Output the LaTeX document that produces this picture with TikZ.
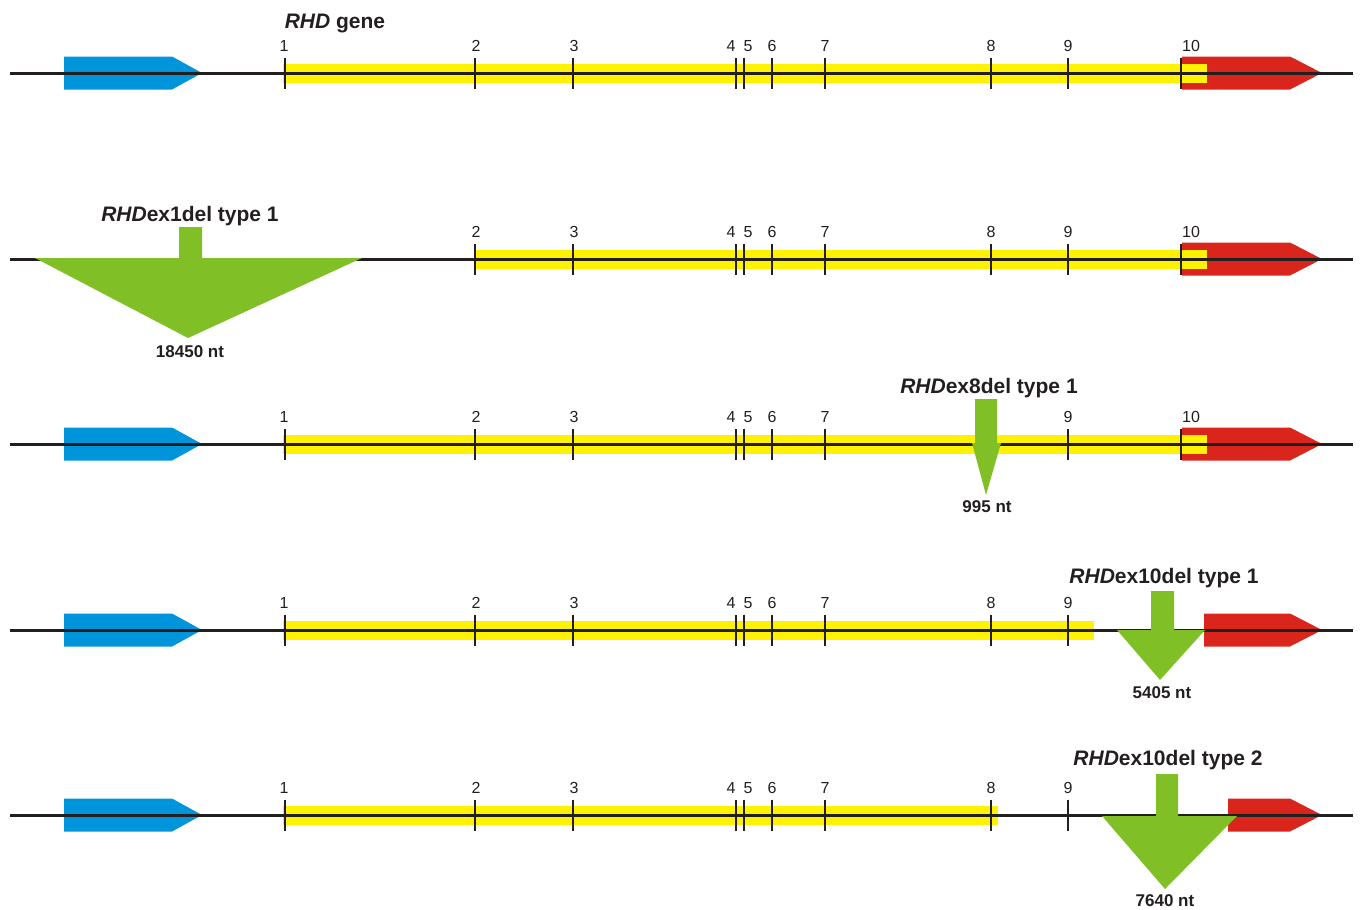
\documentclass[tikz,border=0pt]{standalone}
\usepackage{fontspec}
\setmainfont{Liberation Sans}
\definecolor{geneblue}{HTML}{0095DA}
\definecolor{exyellow}{HTML}{FFF200}
\definecolor{genered}{HTML}{DA251D}
\definecolor{delgreen}{HTML}{80C026}
\definecolor{ink}{HTML}{231F20}
\def\exA{1/285/284,2/475/476,3/573/574,4/736/731,5/744/748,6/772/772,7/825/825,8/991/991,9/1068/1068,10/1181/1191}
\def\exB{2/475/476,3/573/574,4/736/731,5/744/748,6/772/772,7/825/825,8/991/991,9/1068/1068,10/1181/1191}
\def\exC{1/285/284,2/475/476,3/573/574,4/736/731,5/744/748,6/772/772,7/825/825,9/1068/1068,10/1181/1191}
\def\exD{1/285/284,2/475/476,3/573/574,4/736/731,5/744/748,6/772/772,7/825/825,8/991/991,9/1068/1068}
\begin{document}
\begin{tikzpicture}[x=1pt,y=-1pt,
  backbone/.style={draw=ink,line width=3pt},
  exontick/.style={draw=ink,line width=2.6pt},
  exband/.style={fill=exyellow},
  upstream/.style={fill=geneblue},
  downstream/.style={fill=genered},
  deletion/.style={fill=delgreen},
  exlabel/.style={font=\fontsize{16}{16}\selectfont, text=ink, inner sep=0pt, anchor=base},
  title/.style={font=\fontsize{21}{21}\selectfont\bfseries, text=ink, inner sep=0pt, anchor=base},
  ntlabel/.style={font=\fontsize{17}{17}\selectfont\bfseries, text=ink, inner sep=0pt, anchor=base}]
\useasboundingbox (0,0) rectangle (1360,910);
% ---------- row 1 ----------
\def\y{73}
\fill[upstream] (64,\y-16.5) -- (172,\y-16.5) -- (202,\y) -- (172,\y+16.5) -- (64,\y+16.5) -- cycle;
\fill[downstream] (1182,\y-16.5) -- (1290,\y-16.5) -- (1322,\y) -- (1290,\y+16.5) -- (1182,\y+16.5) -- cycle;
\fill[exband] (283,\y-9.5) rectangle (1207,\y+9.5);
\coordinate (r1a) at (10,\y); \coordinate (r1b) at (1353,\y);
\draw[backbone] (r1a) -- (r1b);
\foreach \n/\x/\lx in \exA {
  \draw[exontick] (\x,\y-15.5) -- (\x,\y+15.5);
  \node[exlabel] (r1e\n) at (\lx,\y-21.5) {\n};
}
\node[title] (t1) at (335,28) {\textit{RHD} gene};
% ---------- row 2 ----------
\def\y{259}
\fill[downstream] (1182,\y-16.5) -- (1290,\y-16.5) -- (1322,\y) -- (1290,\y+16.5) -- (1182,\y+16.5) -- cycle;
\fill[exband] (474,\y-9.5) rectangle (1207,\y+9.5);
\coordinate (r2a) at (10,\y); \coordinate (r2b) at (1353,\y);
\draw[backbone] (r2a) -- (r2b);
\foreach \n/\x/\lx in \exB {
  \draw[exontick] (\x,\y-15.5) -- (\x,\y+15.5);
  \node[exlabel] (r2e\n) at (\lx,\y-21.5) {\n};
}
\fill[deletion] (179,227) -- (202,227) -- (202,258) -- (362,258) -- (188,338) -- (35,258) -- (179,258) -- cycle;
\node[title] (t2) at (190,221) {\textit{RHD}ex1del type 1};
\node[ntlabel] (n2) at (190,357) {18450 nt};
% ---------- row 3 ----------
\def\y{444}
\fill[upstream] (64,\y-16.5) -- (172,\y-16.5) -- (202,\y) -- (172,\y+16.5) -- (64,\y+16.5) -- cycle;
\fill[downstream] (1182,\y-16.5) -- (1290,\y-16.5) -- (1322,\y) -- (1290,\y+16.5) -- (1182,\y+16.5) -- cycle;
\fill[exband] (283,\y-9.5) rectangle (1207,\y+9.5);
\coordinate (r3a) at (10,\y); \coordinate (r3b) at (1353,\y);
\draw[backbone] (r3a) -- (r3b);
\foreach \n/\x/\lx in \exC {
  \draw[exontick] (\x,\y-15.5) -- (\x,\y+15.5);
  \node[exlabel] (r3e\n) at (\lx,\y-21.5) {\n};
}
\fill[deletion] (975,399) -- (997,399) -- (997,443) -- (1001,443) -- (986,495) -- (972,443) -- (975,443) -- cycle;
\node[title] (t3) at (989,393) {\textit{RHD}ex8del type 1};
\node[ntlabel] (n3) at (987,512) {995 nt};
% ---------- row 4 ----------
\def\y{630}
\fill[upstream] (64,\y-16.5) -- (172,\y-16.5) -- (202,\y) -- (172,\y+16.5) -- (64,\y+16.5) -- cycle;
\fill[downstream] (1204,\y-16.5) -- (1290,\y-16.5) -- (1322,\y) -- (1290,\y+16.5) -- (1204,\y+16.5) -- cycle;
\fill[exband] (283,\y-9.5) rectangle (1094,\y+9.5);
\coordinate (r4a) at (10,\y); \coordinate (r4b) at (1353,\y);
\draw[backbone] (r4a) -- (r4b);
\foreach \n/\x/\lx in \exD {
  \draw[exontick] (\x,\y-15.5) -- (\x,\y+15.5);
  \node[exlabel] (r4e\n) at (\lx,\y-21.5) {\n};
}
\fill[deletion] (1151,591) -- (1174,591) -- (1174,630) -- (1205,630) -- (1160,680) -- (1117,630) -- (1151,630) -- cycle;
\node[title] (t4) at (1164,583) {\textit{RHD}ex10del type 1};
\node[ntlabel] (n4) at (1162,698) {5405 nt};
% ---------- row 5 ----------
\def\y{815}
\fill[upstream] (64,\y-16.5) -- (172,\y-16.5) -- (202,\y) -- (172,\y+16.5) -- (64,\y+16.5) -- cycle;
\fill[downstream] (1228,\y-16.5) -- (1290,\y-16.5) -- (1322,\y) -- (1290,\y+16.5) -- (1228,\y+16.5) -- cycle;
\fill[exband] (283,\y-9.5) rectangle (998,\y+9.5);
\coordinate (r5a) at (10,\y); \coordinate (r5b) at (1353,\y);
\draw[backbone] (r5a) -- (r5b);
\foreach \n/\x/\lx in \exD {
  \draw[exontick] (\x,\y-15.5) -- (\x,\y+15.5);
  \node[exlabel] (r5e\n) at (\lx,\y-21.5) {\n};
}
\fill[deletion] (1156,774) -- (1178,774) -- (1178,816) -- (1237,816) -- (1165,889) -- (1102,816) -- (1156,816) -- cycle;
\node[title] (t5) at (1168,765) {\textit{RHD}ex10del type 2};
\node[ntlabel] (n5) at (1165,906) {7640 nt};
\end{tikzpicture}
\end{document}
